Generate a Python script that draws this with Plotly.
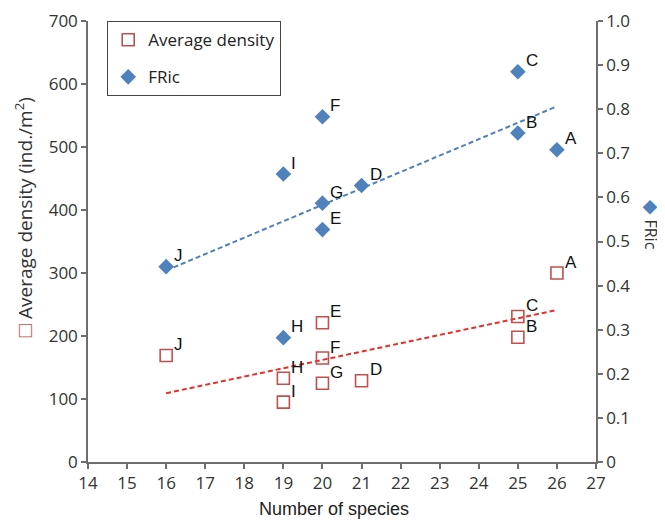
import numpy as np
import plotly.graph_objects as go

# ---- data ----
sites = ["A", "B", "C", "D", "E", "F", "G", "H", "I", "J"]
species = [26, 25, 25, 21, 20, 20, 20, 19, 19, 16]
density = [300, 198, 231, 129, 221, 165, 125, 133, 95, 169]
fric = [0.708, 0.746, 0.885, 0.627, 0.527, 0.783, 0.587, 0.282, 0.653, 0.443]

x_ticks = list(range(14, 28))
y1_ticks = list(range(0, 701, 100))
y2_ticks = [0, 0.1, 0.2, 0.3, 0.4, 0.5, 0.6, 0.7, 0.8, 0.9, 1.0]
y2_ticktext = ["0", "0.1", "0.2", "0.3", "0.4", "0.5", "0.6", "0.7", "0.8", "0.9", "1.0"]

RED = "#C0504D"
BLUE = "#4F81BD"
AXIS = "#6E6E6E"
TICKFONT = dict(family="Open Sans", size=17, color="#333333")

# linear trend lines (least squares)
xs = np.array(species, dtype=float)
xfit = np.array([xs.min(), xs.max()])
pd_ = np.polyfit(xs, np.array(density, float), 1)
pf_ = np.polyfit(xs, np.array(fric, float), 1)

fig = go.Figure()

fig.add_trace(go.Scatter(
    x=xfit, y=np.polyval(pd_, xfit), mode="lines",
    line=dict(color="#E8302A", width=2, dash="5px,3px"),
    showlegend=False, hoverinfo="skip"))
fig.add_trace(go.Scatter(
    x=xfit, y=np.polyval(pf_, xfit), mode="lines", yaxis="y2",
    line=dict(color=BLUE, width=2, dash="5px,3px"),
    showlegend=False, hoverinfo="skip"))

fig.add_trace(go.Scatter(
    x=species, y=density, mode="markers", name="Average density",
    legendgroup="a",
    marker=dict(symbol="square-open", size=12, color=RED, line=dict(width=1.6, color=RED))))
fig.add_trace(go.Scatter(
    x=species, y=fric, mode="markers", name="FRic", yaxis="y2",
    legendgroup="b",
    marker=dict(symbol="diamond", size=12, color=BLUE, line=dict(width=0))))

annotations = []
for s, x, d, f in zip(sites, species, density, fric):
    for yy, yref in ((d, "y"), (f, "y2")):
        annotations.append(dict(
            x=x, y=yy, xref="x", yref=yref, text=s, showarrow=False,
            xanchor="left", yanchor="middle", xshift=6, yshift=11,
            font=dict(family="Liberation Sans", size=17, color="#111111")))

annotations.append(dict(
    x=-0.128, y=0.555, xref="paper", yref="paper", textangle=-90,
    showarrow=False, xanchor="center", yanchor="middle",
    text="<span style='color:%s;font-size:22px'>□</span> Average density (ind./m<sup>2</sup>)" % RED,
    font=dict(family="Open Sans", size=19, color="#333333")))
annotations.append(dict(
    x=1.11, y=0.537, xref="paper", yref="paper", textangle=90,
    showarrow=False, xanchor="center", yanchor="middle",
    text="<span style='color:%s;font-size:19px'>◆</span> FRic" % BLUE,
    font=dict(family="Open Sans", size=16, color="#333333")))
annotations.append(dict(
    x=0.484, y=-0.107, xref="paper", yref="paper", showarrow=False,
    xanchor="center", yanchor="middle", text="Number of species",
    font=dict(family="Liberation Sans", size=18, color="#222222")))

axis_common = dict(showgrid=False, zeroline=False, showline=True, linecolor=AXIS,
                   linewidth=1.5, ticks="outside", tickcolor=AXIS, ticklen=5,
                   tickwidth=1.5, tickfont=TICKFONT, automargin=False)

# the page body adds an 8px margin, so the figure is made 8px smaller and
# its margins reduced to keep the plot area where the reference has it
fig.update_layout(
    width=657, height=513,
    margin=dict(l=80, r=69, t=13, b=59),
    plot_bgcolor="white", paper_bgcolor="white",
    xaxis=dict(range=[14, 27], tickvals=x_ticks, **axis_common),
    yaxis=dict(range=[0, 700], tickvals=y1_ticks, **axis_common),
    yaxis2=dict(range=[0, 1.0], tickvals=y2_ticks, ticktext=y2_ticktext,
                overlaying="y", side="right", **axis_common),
    legend=dict(x=0.0374, y=1.0, xanchor="left", yanchor="top",
                bordercolor="#444444", borderwidth=1.2, bgcolor="white",
                font=dict(family="Open Sans", size=17, color="#222222"),
                tracegroupgap=12, traceorder="grouped"),
    annotations=annotations,
)

fig.write_html("out.html")
